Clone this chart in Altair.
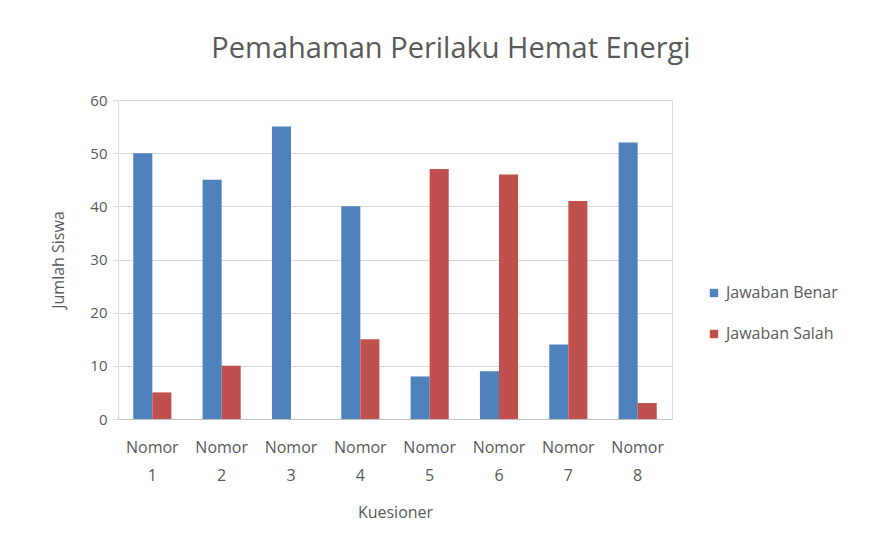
import altair as alt
import pandas as pd

categories = ["Nomor 1", "Nomor 2", "Nomor 3", "Nomor 4", "Nomor 5", "Nomor 6", "Nomor 7", "Nomor 8"]
benar = [50, 45, 55, 40, 8, 9, 14, 52]
salah = [5, 10, 0, 15, 47, 46, 41, 3]
series = ["Jawaban Benar", "Jawaban Salah"]
colors = ["#4F81BD", "#C0504D"]

rows = []
for c, b, s in zip(categories, benar, salah):
    rows.append({"Kuesioner": c, "Seri": series[0], "Nilai": b})
    rows.append({"Kuesioner": c, "Seri": series[1], "Nilai": s})
df = pd.DataFrame(rows)

FONT = "Open Sans"
GRAY = "#595959"
LINE = "#D9D9D9"

chart = alt.Chart(df).mark_bar().encode(
    x=alt.X("Kuesioner:N", sort=categories,
            scale=alt.Scale(paddingInner=0.45, paddingOuter=0.22),
            axis=alt.Axis(title="Kuesioner", labelAngle=0,
                          labelExpr="split(datum.label, ' ')",
                          labelFontSize=16, labelColor=GRAY, labelFont=FONT,
                          labelPadding=20, labelLineHeight=28,
                          titleFontSize=16, titleColor=GRAY, titleFont=FONT,
                          titleFontWeight="normal", titlePadding=21,
                          domainColor="#BFBFBF", ticks=False, grid=False)),
    xOffset=alt.XOffset("Seri:N", sort=series, scale=alt.Scale(paddingInner=0, paddingOuter=0)),
    y=alt.Y("Nilai:Q", scale=alt.Scale(domain=[0, 60]),
            axis=alt.Axis(title="Jumlah Siswa", values=[0, 10, 20, 30, 40, 50, 60],
                          labelFontSize=15, labelColor=GRAY, labelFont=FONT,
                          labelPadding=6,
                          titleFontSize=16, titleColor=GRAY, titleFont=FONT,
                          titleFontWeight="normal", titlePadding=23,
                          gridColor=LINE, domain=True, domainColor=LINE,
                          ticks=True, tickColor=LINE, tickSize=5)),
    color=alt.Color("Seri:N", sort=series,
                    scale=alt.Scale(domain=series, range=colors),
                    legend=alt.Legend(title=None, orient="none", legendX=588, legendY=185,
                                      symbolType="square", symbolSize=70,
                                      labelFontSize=16, labelColor=GRAY, labelFont=FONT,
                                      rowPadding=25, labelLimit=200)),
).properties(
    width=554, height=319,
    title=alt.TitleParams("Pemahaman Perilaku Hemat Energi", fontSize=29,
                          color=GRAY, font=FONT, fontWeight="normal",
                          anchor="middle", dx=56, offset=29),
    padding={"left": 110, "top": 92, "right": 196, "bottom": 115},
    autosize=alt.AutoSizeParams(type="none"),
).configure_view(strokeWidth=0).configure(background="white")

chart.save("out.html", embed_options={"renderer": "svg", "actions": False})
